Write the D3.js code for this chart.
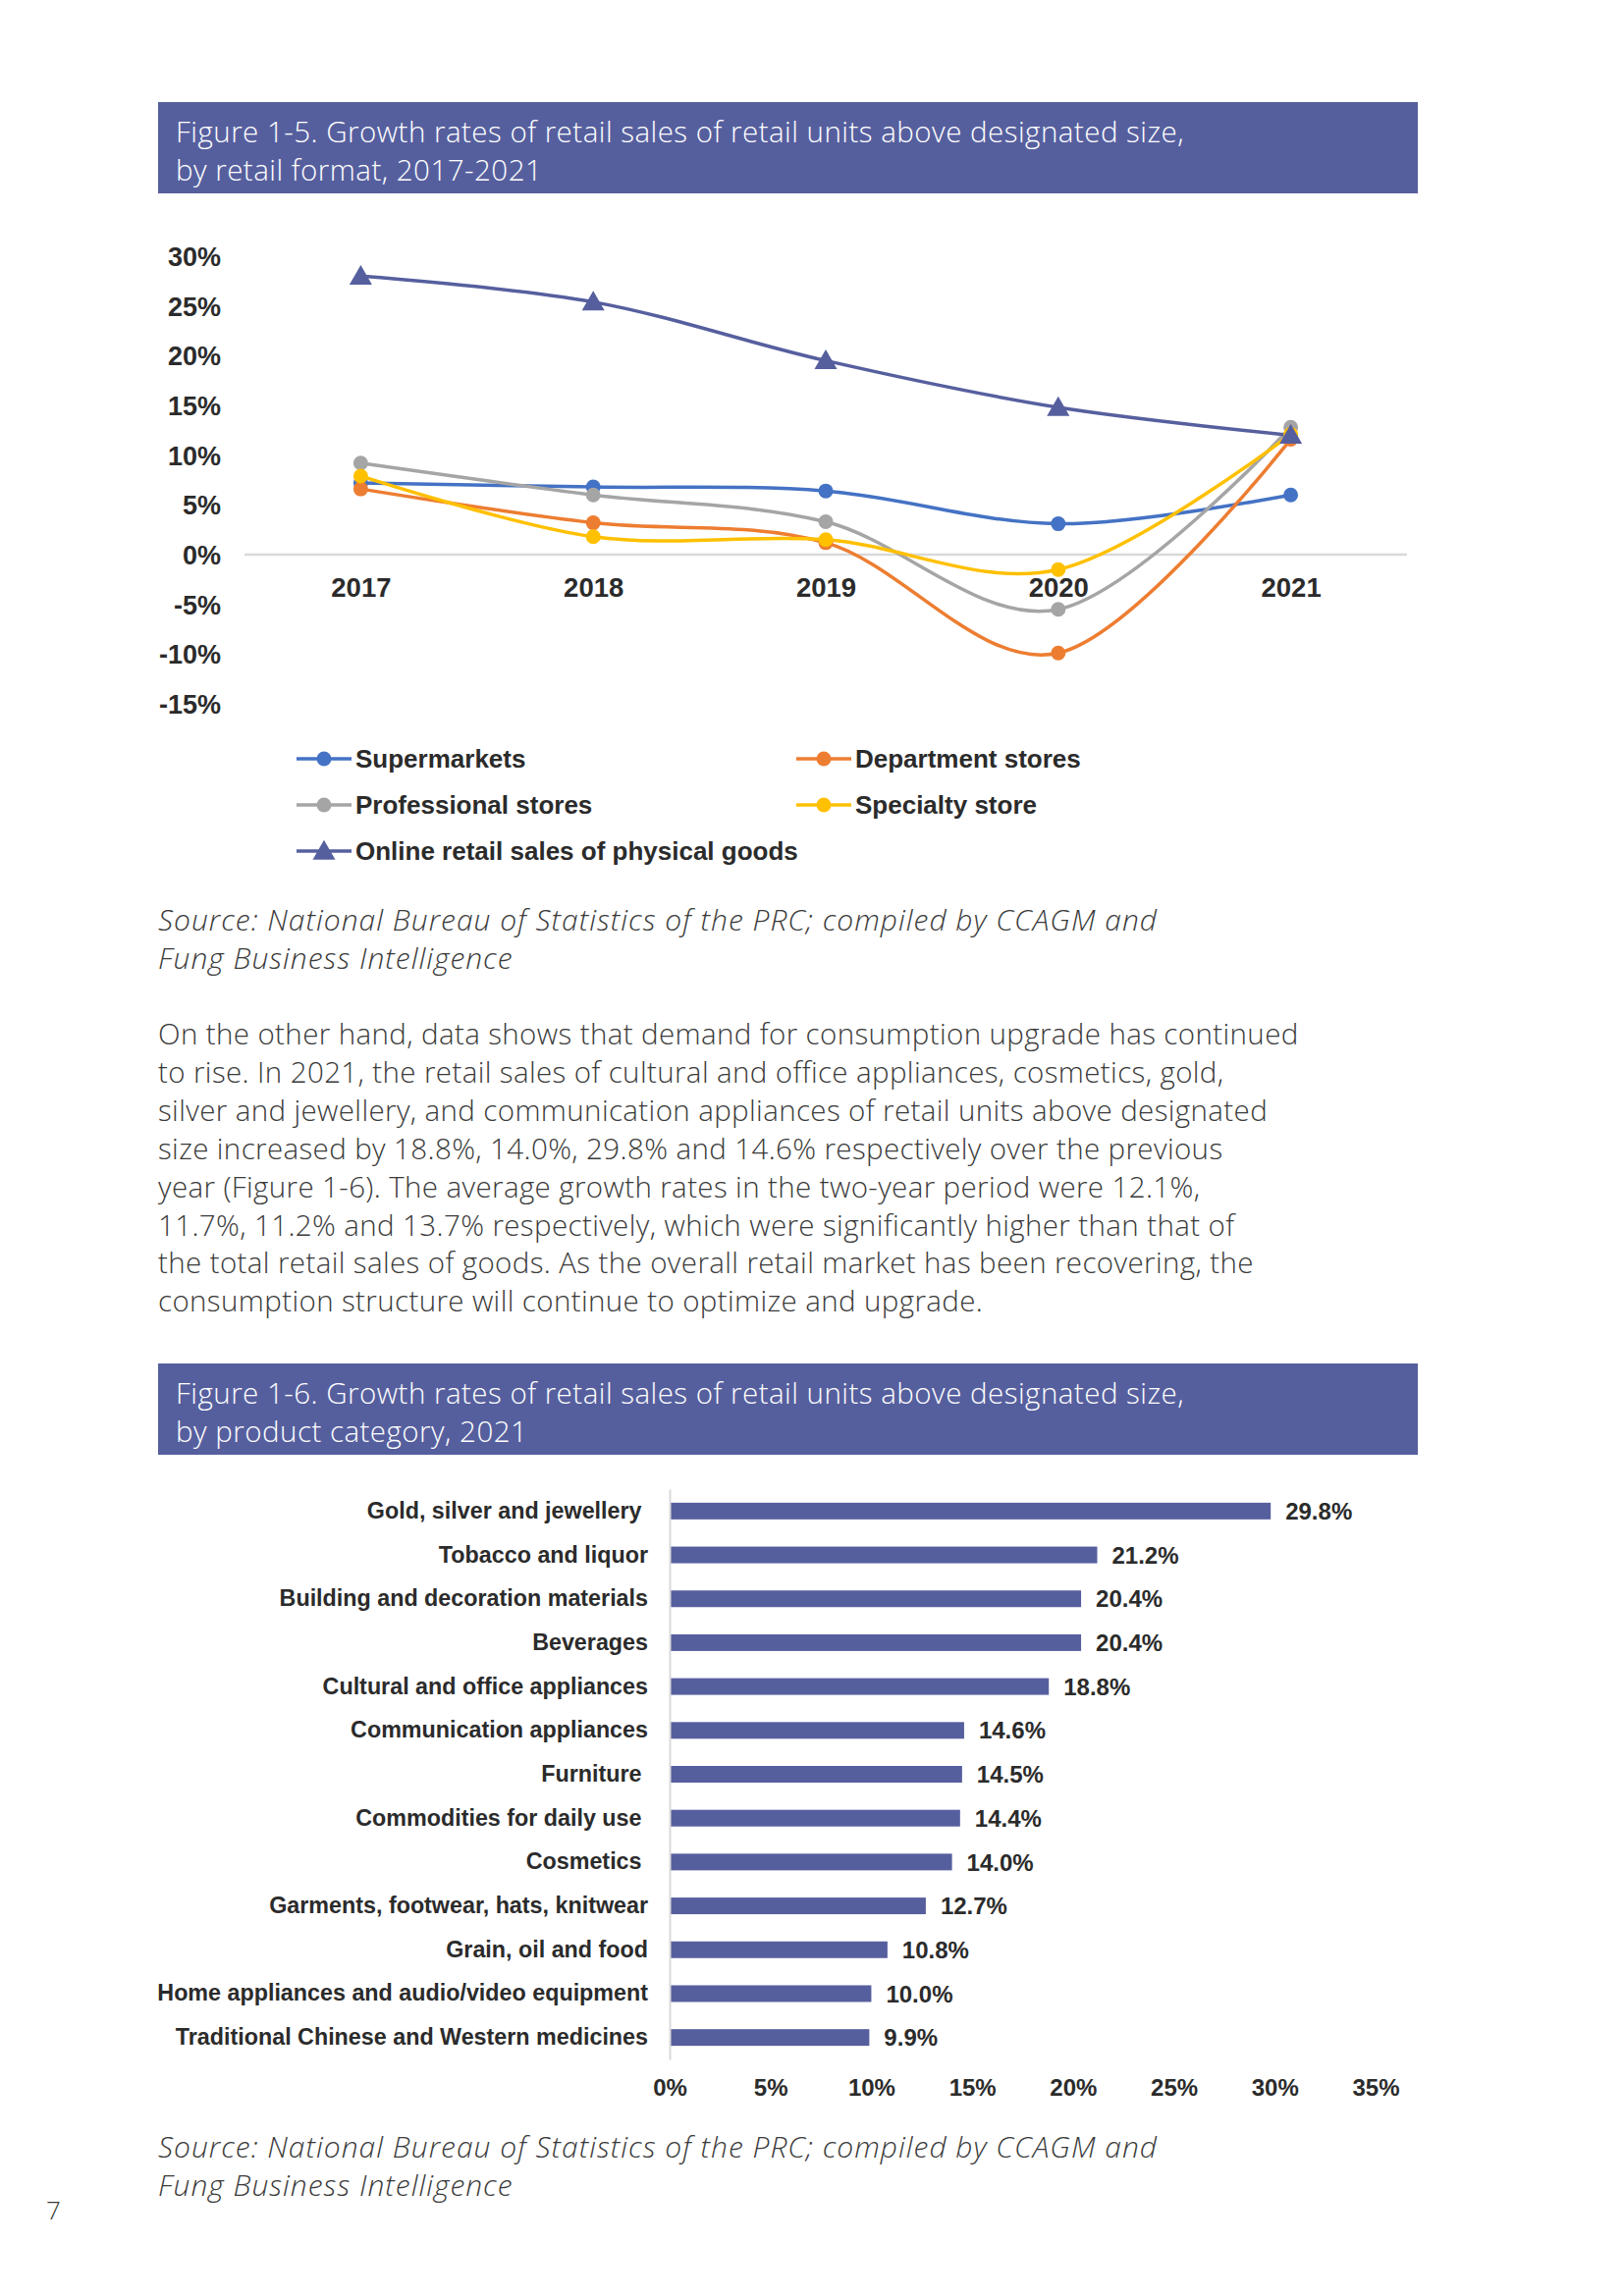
<!DOCTYPE html>
<html>
<head>
<meta charset="utf-8">
<script src="https://cdn.jsdelivr.net/npm/d3@7"></script>
<style>
  body { margin: 0; background: #fff; }
  svg { display: block; }
  .light { font-family: "Open Sans", Roboto, sans-serif; font-weight: 300; }
  .lbl { font-family: "Liberation Sans", Arial, sans-serif; font-weight: bold; fill: #2b2b2b; }
</style>
</head>
<body>
<script>
(function(){

    //figure 1-5 data
    var years = ["2017", "2018", "2019", "2020", "2021"];
    var seriesNames = ["Supermarkets", "Department stores", "Professional stores", "Specialty store", "Online retail sales of physical goods"];
    var supermarkets = [7.2, 6.8, 6.4, 3.1, 6.0];
    var departmentStores = [6.6, 3.2, 1.2, -9.9, 11.6];
    var professionalStores = [9.2, 6.0, 3.3, -5.5, 12.8];
    var specialtyStores = [7.9, 1.8, 1.5, -1.5, 12.1];
    var onlineRetail = [28.0, 25.4, 19.5, 14.8, 12.0];
    var lineTicks = [30, 25, 20, 15, 10, 5, 0, -5, -10, -15];

    //figure 1-6 data
    var categories = [
        "Gold, silver and jewellery ",
        "Tobacco and liquor",
        "Building and decoration materials",
        "Beverages",
        "Cultural and office appliances",
        "Communication appliances",
        "Furniture ",
        "Commodities for daily use ",
        "Cosmetics ",
        "Garments, footwear, hats, knitwear",
        "Grain, oil and food",
        "Home appliances and audio/video equipment",
        "Traditional Chinese and Western medicines"
    ];
    var growth2021 = [29.8, 21.2, 20.4, 20.4, 18.8, 14.6, 14.5, 14.4, 14.0, 12.7, 10.8, 10.0, 9.9];
    var barTicks = [0, 5, 10, 15, 20, 25, 30, 35];

    //page text
    var title1 = ["Figure 1-5. Growth rates of retail sales of retail units above designated size,", "by retail format, 2017-2021"];
    var title2 = ["Figure 1-6. Growth rates of retail sales of retail units above designated size,", "by product category, 2021"];
    var source = ["Source: National Bureau of Statistics of the PRC; compiled by CCAGM and", "Fung Business Intelligence"];
    var paragraph = [
        "On the other hand, data shows that demand for consumption upgrade has continued",
        "to rise. In 2021, the retail sales of cultural and office appliances, cosmetics, gold,",
        "silver and jewellery, and communication appliances of retail units above designated",
        "size increased by 18.8%, 14.0%, 29.8% and 14.6% respectively over the previous",
        "year (Figure 1-6). The average growth rates in the two-year period were 12.1%,",
        "11.7%, 11.2% and 13.7% respectively, which were significantly higher than that of",
        "the total retail sales of goods. As the overall retail market has been recovering, the",
        "consumption structure will continue to optimize and upgrade."
    ];

    var navy = "#565f9e";
    var colors = ["#4472c4", "#ed7d31", "#a5a5a5", "#ffc000", navy];

    var svg = d3.select("body").append("svg")
        .attr("width", 1654)
        .attr("height", 2339);

    svg.append("rect").attr("width", 1654).attr("height", 2339).attr("fill", "#fff");

    //title banner
    function banner(top, lines){
        svg.append("rect")
            .attr("x", 161).attr("y", top)
            .attr("width", 1283).attr("height", 93)
            .attr("fill", navy);
        svg.append("text")
            .attr("class", "light")
            .attr("fill", "#fff")
            .attr("font-size", 29.5)
            .attr("letter-spacing", 0.48)
            .selectAll("tspan")
            .data(lines)
            .enter()
            .append("tspan")
            .attr("x", 179)
            .attr("y", function(d, i){ return top + 41 + i * 39; })
            .text(function(d){ return d; });
    }

    //block of light text lines
    function textBlock(x, y, lines, size, lh, italic, spacing){
        svg.append("text")
            .attr("class", "light")
            .attr("fill", "#3a3a3a")
            .attr("font-size", size)
            .attr("letter-spacing", spacing)
            .attr("font-style", italic ? "italic" : null)
            .selectAll("tspan")
            .data(lines)
            .enter()
            .append("tspan")
            .attr("x", x)
            .attr("y", function(d, i){ return y + i * lh; })
            .text(function(d){ return d; });
    }

    banner(104, title1);
    setLineChart();
    textBlock(161, 948, source, 30, 39, true, 1.0);
    textBlock(161, 1064, paragraph, 29.5, 38.9, false, 0.38);
    banner(1389, title2);
    setBarChart();
    textBlock(161, 2198, source, 30, 39, true, 1.0);

    svg.append("text")
        .attr("class", "light")
        .attr("x", 47).attr("y", 2261)
        .attr("font-size", 26)
        .attr("fill", "#3a3a3a")
        .text("7");

    function setLineChart(){
        var x = d3.scalePoint()
            .domain(years)
            .range([249, 1433])
            .padding(0.5);

        var y = d3.scaleLinear()
            .domain([-15, 30])
            .range([717, 261]);

        var data = [supermarkets, departmentStores, professionalStores, specialtyStores, onlineRetail];

        //zero line
        svg.append("line")
            .attr("x1", 249).attr("x2", 1433)
            .attr("y1", y(0)).attr("y2", y(0))
            .attr("stroke", "#d9d9d9")
            .attr("stroke-width", 2.5);

        //y axis labels
        var yAxis = d3.axisLeft(y)
            .tickValues(lineTicks)
            .tickSize(0)
            .tickPadding(0)
            .tickFormat(function(d){ return d + "%"; });

        var ya = svg.append("g")
            .attr("transform", "translate(225,0)")
            .call(yAxis);
        ya.select(".domain").remove();
        ya.selectAll("text")
            .attr("class", "lbl")
            .attr("font-size", 27)
            .attr("dy", "0.35em");

        //x axis labels under the zero line
        var xAxis = d3.axisBottom(x).tickSize(0).tickPadding(0);
        var xa = svg.append("g")
            .attr("transform", "translate(0," + (y(0) + 43) + ")")
            .call(xAxis);
        xa.select(".domain").remove();
        xa.selectAll("text")
            .attr("class", "lbl")
            .attr("font-size", 27.5)
            .attr("dy", 0);

        var line = d3.line()
            .x(function(d, i){ return x(years[i]); })
            .y(function(d){ return y(d); })
            .curve(d3.curveCatmullRom.alpha(0));

        var tri = d3.symbol().type(d3.symbolTriangle).size(230);

        data.forEach(function(vals, s){
            svg.append("path")
                .datum(vals)
                .attr("d", line)
                .attr("fill", "none")
                .attr("stroke", colors[s])
                .attr("stroke-width", 3.5);
        });

        data.forEach(function(vals, s){
            var g = svg.append("g");
            if (s == 4){
                g.selectAll("path")
                    .data(vals)
                    .enter()
                    .append("path")
                    .attr("d", tri)
                    .attr("transform", function(d, i){ return "translate(" + x(years[i]) + "," + (y(d) + 2) + ")"; })
                    .attr("fill", colors[s]);
            } else {
                g.selectAll("circle")
                    .data(vals)
                    .enter()
                    .append("circle")
                    .attr("cx", function(d, i){ return x(years[i]); })
                    .attr("cy", function(d){ return y(d); })
                    .attr("r", 7.5)
                    .attr("fill", colors[s]);
            }
        });

        //legend
        var legendPos = [[302, 773], [811, 773], [302, 820], [811, 820], [302, 867]];
        seriesNames.forEach(function(name, s){
            var p = legendPos[s];
            var g = svg.append("g").attr("transform", "translate(" + p[0] + "," + p[1] + ")");
            g.append("line")
                .attr("x1", 0).attr("x2", 56)
                .attr("stroke", colors[s])
                .attr("stroke-width", 3.5);
            if (s == 4){
                g.append("path").attr("d", tri).attr("transform", "translate(28,2)").attr("fill", colors[s]);
            } else {
                g.append("circle").attr("cx", 28).attr("r", 7.5).attr("fill", colors[s]);
            }
            g.append("text")
                .attr("class", "lbl")
                .attr("x", 60)
                .attr("dy", "0.36em")
                .attr("font-size", 26)
                .text(name);
        });
    }

    function setBarChart(){
        var x = d3.scaleLinear()
            .domain([0, 35])
            .range([682, 1401]);

        var y = d3.scaleBand()
            .domain(categories)
            .range([1517, 2098])
            .paddingInner(0.62)
            .paddingOuter(0.31);

        svg.selectAll(".bar")
            .data(growth2021)
            .enter()
            .append("rect")
            .attr("class", "bar")
            .attr("x", x(0))
            .attr("y", function(d, i){ return y(categories[i]); })
            .attr("width", function(d){ return x(d) - x(0); })
            .attr("height", y.bandwidth())
            .attr("fill", navy);

        svg.selectAll(".barValue")
            .data(growth2021)
            .enter()
            .append("text")
            .attr("class", "lbl barValue")
            .attr("x", function(d){ return x(d) + 15; })
            .attr("y", function(d, i){ return y(categories[i]) + y.bandwidth() / 2; })
            .attr("dy", "0.36em")
            .attr("font-size", 24)
            .text(function(d){ return d.toFixed(1) + "%"; });

        //category axis
        var ya = svg.append("g")
            .attr("transform", "translate(" + x(0) + ",0)")
            .call(d3.axisLeft(y).tickSize(0).tickPadding(22));
        ya.select(".domain")
            .attr("stroke", "#d9d9d9")
            .attr("stroke-width", 2);
        ya.selectAll("text")
            .attr("class", "lbl")
            .attr("font-size", 23.3)
            .style("white-space", "pre");

        //value axis
        var xa = svg.append("g")
            .attr("transform", "translate(0,2098)")
            .call(d3.axisBottom(x).tickValues(barTicks).tickSize(0).tickPadding(20)
                .tickFormat(function(d){ return d + "%"; }));
        xa.select(".domain").remove();
        xa.selectAll("text")
            .attr("class", "lbl")
            .attr("font-size", 24);
    }

})();
</script>
</body>
</html>
